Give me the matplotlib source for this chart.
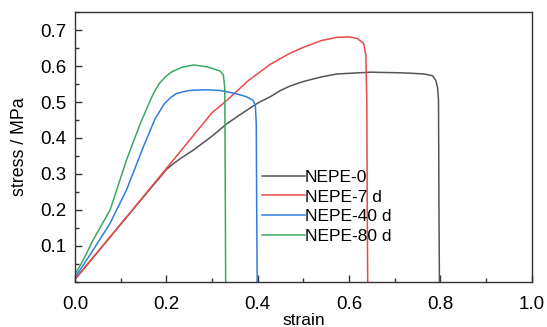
"""
Stress-strain curves for NEPE propellant after different ageing times.
"""
import matplotlib
matplotlib.use("Agg")
import matplotlib.pyplot as plt
from matplotlib.ticker import MultipleLocator, FixedLocator

# ── Data ──────────────────────────────────────────────────────────────────────
strain_0 = [0.0, 0.10, 0.20, 0.215, 0.23, 0.26, 0.30, 0.333, 0.37, 0.40, 0.428, 0.45,
            0.47, 0.50, 0.54, 0.574, 0.647, 0.72, 0.765, 0.783, 0.790, 0.794, 0.796,
            0.797, 0.798]
stress_0 = [0.007, 0.160, 0.312, 0.328, 0.342, 0.367, 0.405, 0.440, 0.472, 0.497, 0.515, 0.532,
            0.544, 0.557, 0.570, 0.578, 0.583, 0.581, 0.578, 0.573, 0.560, 0.540, 0.505,
            0.200, 0.0]

strain_7 = [0.0, 0.10, 0.20, 0.30, 0.333, 0.38, 0.428, 0.47, 0.50, 0.54, 0.574,
            0.60, 0.618, 0.632, 0.637, 0.639, 0.640, 0.641]
stress_7 = [0.007, 0.160, 0.315, 0.470, 0.505, 0.560, 0.605, 0.635, 0.652, 0.671, 0.680,
            0.681, 0.677, 0.663, 0.630, 0.500, 0.200, 0.0]

strain_40 = [0.0, 0.02, 0.04, 0.077, 0.113, 0.15, 0.175, 0.195, 0.21, 0.223, 0.245, 0.26,
             0.29, 0.318, 0.347, 0.375, 0.39, 0.395, 0.397, 0.398, 0.399]
stress_40 = [0.012, 0.050, 0.089, 0.163, 0.256, 0.376, 0.452, 0.494, 0.513, 0.524, 0.531, 0.533,
             0.534, 0.532, 0.525, 0.515, 0.505, 0.490, 0.440, 0.200, 0.0]

strain_80 = [0.0, 0.02, 0.04, 0.077, 0.113, 0.143, 0.16, 0.172, 0.185, 0.198, 0.212,
             0.235, 0.26, 0.289, 0.318, 0.325, 0.328, 0.329, 0.330]
stress_80 = [0.020, 0.065, 0.117, 0.200, 0.339, 0.440, 0.490, 0.524, 0.552, 0.570, 0.584,
             0.597, 0.603, 0.598, 0.586, 0.575, 0.540, 0.300, 0.0]

labels = ["NEPE-0", "NEPE-7 d", "NEPE-40 d", "NEPE-80 d"]
colors = ["#555555", "#e84a4a", "#2f7fdc", "#3aa862"]

plt.rcParams.update({
    "font.family": ["Liberation Sans", "DejaVu Sans"],
    "font.size": 12,
    "axes.edgecolor": "#333333",
    "axes.linewidth": 1.0,
})

fig = plt.figure(figsize=(5.47, 3.27), dpi=100)
ax = fig.add_axes([0.137, 0.138, 0.835, 0.825])

series = [(strain_0, stress_0), (strain_7, stress_7),
          (strain_40, stress_40), (strain_80, stress_80)]
for (x, y), lab, col in zip(series, labels, colors):
    ax.plot(x, y, color=col, linewidth=1.1, label=lab)

ax.set_xlim(0, 1.0)
ax.set_ylim(0, 0.75)
ax.xaxis.set_major_locator(MultipleLocator(0.2))
ax.xaxis.set_minor_locator(MultipleLocator(0.1))
ax.yaxis.set_major_locator(FixedLocator([0.1, 0.2, 0.3, 0.4, 0.5, 0.6, 0.7]))
ax.yaxis.set_minor_locator(MultipleLocator(0.05))
ax.xaxis.set_major_formatter(plt.FuncFormatter(lambda v, p: f"{v:.1f}"))
ax.yaxis.set_major_formatter(plt.FuncFormatter(lambda v, p: f"{v:.1f}"))

ax.tick_params(which="both", direction="in", top=False, right=False,
               labelsize=13.5, width=1.0, color="#333333")
ax.tick_params(which="major", length=5)
ax.tick_params(which="minor", length=3)
ax.tick_params(axis="x", which="major", pad=10)
ax.tick_params(axis="y", which="major", pad=6)

ax.set_xlabel("strain", fontsize=12.5, labelpad=0)
ax.set_ylabel("stress / MPa", fontsize=12.8, labelpad=9)

ax.legend(loc="center left", bbox_to_anchor=(0.395, 0.278), frameon=False,
          handlelength=2.45, handletextpad=0.0, labelspacing=0.27,
          fontsize=12.5, borderaxespad=0)

fig.savefig("out.png", dpi=100)
plt.close(fig)
